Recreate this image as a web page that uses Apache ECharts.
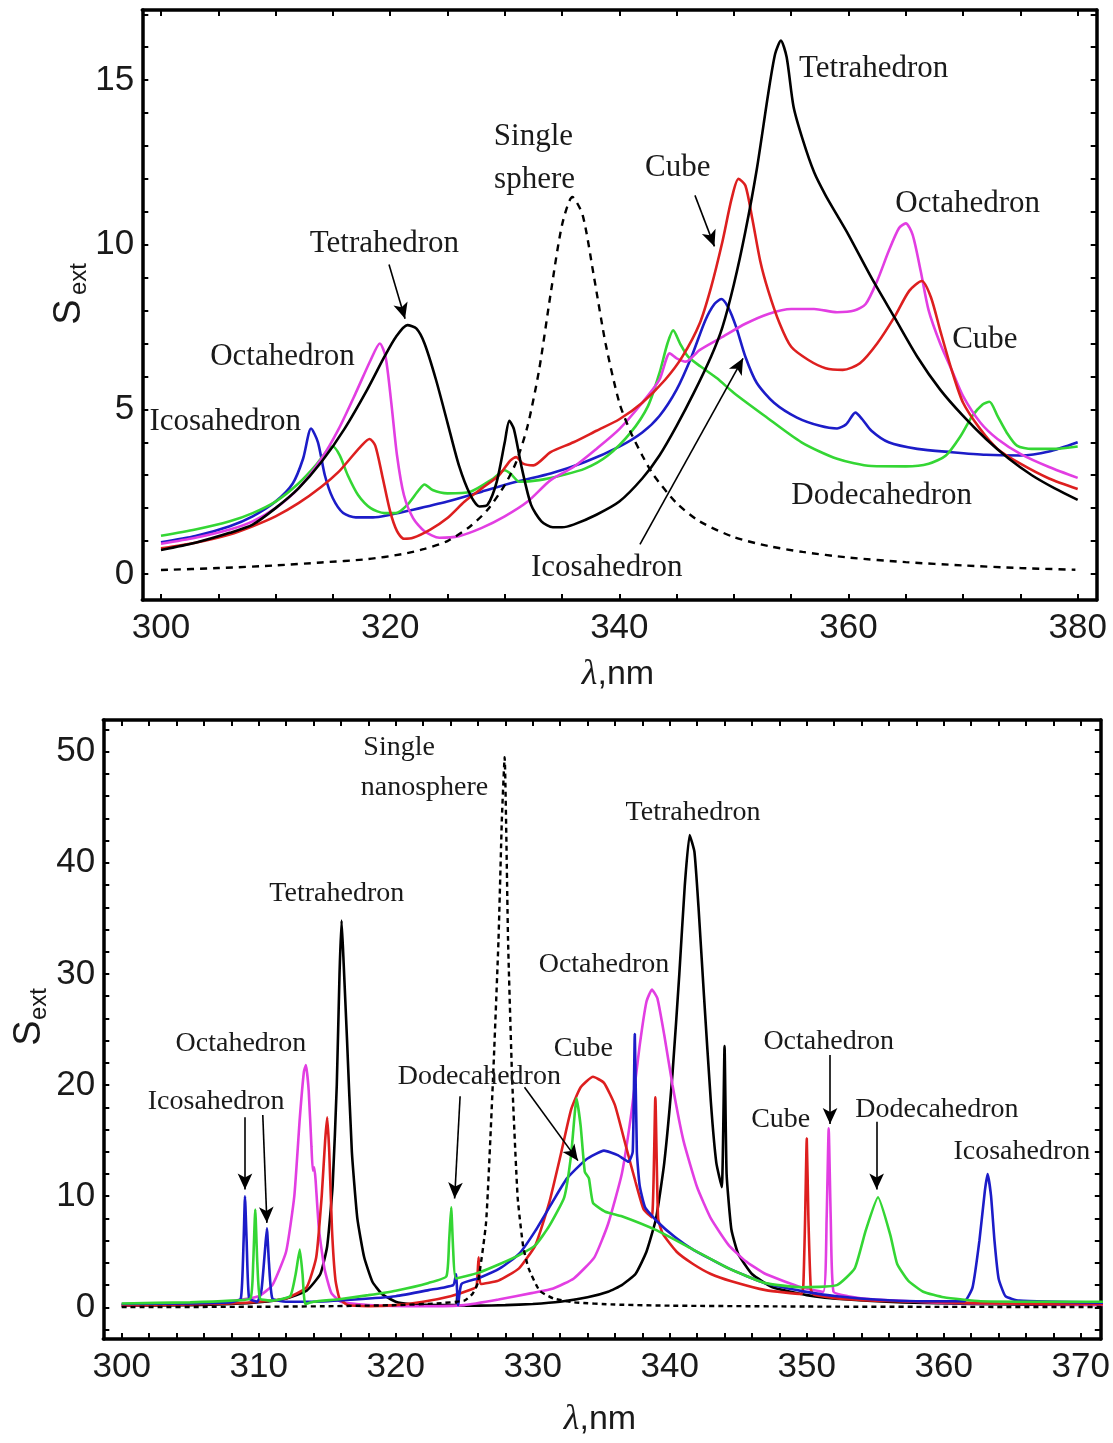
<!DOCTYPE html>
<html><head><meta charset="utf-8">
<script src="https://cdn.jsdelivr.net/npm/echarts@6/dist/echarts.min.js"></script>
<style>html,body{margin:0;padding:0;background:#fff}#c{width:1113px;height:1443px}</style>
</head><body><div id="c"></div>
<script>
// ---------- Top panel data ([λ nm, S_ext]) ----------
const topTetra = [[300,0.73],[303,0.95],[306,1.25],[308,1.5],[310,2.0],[312,2.6],[314,3.4],[316,4.4],[318,5.6],[319.5,6.6],[320.5,7.2],[321.5,7.56],[322.3,7.45],[323,7.0],[324,5.9],[325,4.6],[326,3.3],[327,2.4],[327.8,2.05],[328.5,2.1],[329.3,2.8],[330,4.0],[330.4,4.65],[330.8,4.4],[331.5,3.2],[332.3,2.1],[333.2,1.6],[334.2,1.42],[335,1.42],[336,1.5],[338,1.8],[340,2.2],[342,2.9],[343.5,3.6],[345,4.5],[346.5,5.5],[348,6.6],[349,7.5],[350,8.8],[351,10.4],[352,12.3],[353,14.6],[353.6,15.8],[354.1,16.2],[354.6,15.7],[355.2,14.2],[356,13.2],[357,12.2],[358,11.5],[359,10.9],[360,10.3],[362,9.0],[364,7.8],[366,6.6],[368,5.6],[370,4.8],[372,4.1],[374,3.5],[376,3.0],[378,2.6],[380,2.25]];
const topCube = [[300,0.78],[303,0.95],[306,1.2],[308,1.45],[310,1.75],[312,2.15],[314,2.65],[315.5,3.1],[316.5,3.5],[317.5,3.9],[318.2,4.1],[318.7,3.9],[319.3,3.0],[320,1.9],[320.6,1.3],[321.2,1.07],[322,1.1],[323.5,1.35],[325,1.7],[326.5,2.2],[328,2.6],[329.5,3.0],[330.5,3.45],[331,3.55],[331.6,3.35],[332.5,3.3],[334,3.7],[336,4.0],[338,4.35],[340,4.7],[342,5.2],[344,5.9],[345.5,6.6],[347,7.6],[348,8.7],[349,10.1],[349.8,11.4],[350.4,12.0],[351,11.8],[351.6,10.8],[352.3,9.5],[353,8.6],[354,7.6],[355,6.9],[356.5,6.5],[358,6.25],[359.5,6.2],[361,6.4],[362.5,7.0],[364,7.8],[365.3,8.6],[366.4,8.9],[367.2,8.4],[368,7.4],[369,6.2],[370,5.2],[371.5,4.4],[373,3.8],[375,3.35],[377.5,2.9],[380,2.58]];
const topOcta = [[300,0.92],[303,1.1],[306,1.35],[308,1.6],[310,2.0],[312,2.6],[314,3.5],[315.5,4.4],[317,5.5],[318.3,6.5],[319.1,7.0],[319.6,6.6],[320.1,5.2],[320.6,3.6],[321.2,2.4],[322,1.7],[323,1.3],[324.3,1.1],[326,1.15],[328,1.4],[330,1.75],[332,2.2],[334,2.85],[336,3.25],[338,3.8],[340,4.4],[342,5.2],[343.5,5.9],[344.4,6.7],[345,6.55],[345.8,6.45],[347,6.8],[349,7.2],[351,7.6],[353,7.9],[355,8.05],[357,8.05],[359,7.95],[360.5,8.0],[361.5,8.2],[362.5,8.9],[363.5,9.8],[364.4,10.5],[365,10.65],[365.6,10.3],[366.3,9.2],[367,8.0],[368,7.0],[369,6.2],[370,5.4],[371.5,4.6],[373,4.1],[375,3.65],[377.5,3.25],[380,2.92]];
const topIcosa = [[300,0.96],[303,1.15],[306,1.45],[308,1.75],[310,2.2],[311.5,2.75],[312.4,3.5],[313.1,4.42],[313.7,4.0],[314.3,3.0],[315,2.3],[315.9,1.85],[317,1.72],[318.5,1.72],[320,1.8],[322,1.95],[325,2.2],[328,2.5],[331,2.8],[334,3.05],[337,3.4],[340,3.87],[342,4.3],[343.5,4.8],[345,5.6],[346.3,6.6],[347.5,7.7],[348.3,8.2],[348.9,8.35],[349.5,8.1],[350.2,7.5],[351,6.6],[352,5.8],[353.5,5.2],[355.5,4.75],[357.5,4.5],[359,4.42],[359.8,4.55],[360.6,4.9],[361.2,4.7],[362,4.35],[363.5,4.0],[366,3.8],[369,3.7],[372,3.62],[375,3.6],[377.5,3.72],[380,4.0]];
const topDodeca = [[300,1.16],[303,1.35],[306,1.6],[308,1.85],[310,2.2],[312,2.75],[313.5,3.3],[314.5,3.75],[315,3.87],[315.6,3.6],[316.3,3.0],[317.2,2.4],[318.3,2.0],[319.5,1.85],[320.5,1.85],[321.5,2.1],[322.5,2.55],[323,2.72],[323.7,2.55],[325,2.45],[327,2.5],[329,2.9],[330,3.15],[330.5,3.05],[331.3,2.8],[333,2.85],[335,3.0],[337,3.2],[339,3.6],[341,4.3],[342.5,5.1],[343.5,6.1],[344.2,7.0],[344.7,7.4],[345.3,7.0],[346,6.6],[347.1,6.3],[348.5,5.95],[350,5.5],[352.7,4.8],[355.9,4.0],[359,3.5],[362,3.28],[365,3.27],[367,3.35],[368.5,3.6],[369.8,4.2],[370.8,4.8],[371.7,5.15],[372.3,5.23],[373,4.8],[373.8,4.3],[374.7,3.9],[376,3.8],[378,3.8],[380,3.87]];
const topSphere = [[300,0.12],[305,0.18],[310,0.26],[314,0.35],[318,0.45],[321,0.6],[323,0.76],[325,1.0],[327,1.45],[328.5,1.95],[330,2.7],[331,3.4],[332,4.5],[333,6.2],[334,8.5],[335,10.6],[335.9,11.45],[336.8,10.9],[337.8,9.0],[338.8,7.0],[340,5.2],[341,4.3],[342,3.6],[343,3.0],[345,2.15],[347,1.6],[350,1.12],[353,0.85],[356,0.67],[360,0.5],[365,0.36],[370,0.26],[375,0.18],[379.8,0.13]];

// ---------- Bottom panel data ----------
const botTetra = [[300,0.15],[305,0.2],[308,0.3],[310,0.45],[312,0.8],[313.5,1.5],[314.5,3.0],[315,5.5],[315.4,11],[315.7,20],[315.9,30],[316.05,34.8],[316.2,31],[316.45,24],[316.8,14],[317.2,8],[317.7,4.5],[318.3,2.3],[319,1.2],[320,0.5],[321,0.3],[323,0.2],[324.4,0.2],[324.5,1.5],[324.6,0.15],[326,0.15],[328,0.2],[330,0.3],[332,0.5],[334,0.9],[335.5,1.4],[336.5,2.0],[337.5,3.0],[338.3,5.0],[339,8.0],[339.6,13],[340.2,21],[340.7,30],[341.1,38],[341.45,42.5],[341.8,41],[342.1,36],[342.5,28],[343,18.5],[343.4,13],[343.8,10.8],[344.0,23.5],[344.15,12],[344.5,7],[345,4.8],[346,3.0],[347.5,1.8],[350,1.1],[353,0.7],[357,0.45],[362,0.3],[372,0.2]];
const botCube = [[300,0.2],[305,0.25],[308,0.35],[310,0.5],[312,0.8],[313.5,1.8],[314.2,4.5],[314.6,10],[314.85,15],[315.0,17.1],[315.15,14],[315.35,7],[315.6,2.5],[315.9,0.8],[316.5,0.2],[318,0.1],[320,0.2],[322,0.5],[324,1.0],[325.5,1.6],[325.9,1.9],[326.05,4.5],[326.2,2.1],[327.5,2.4],[329,3.5],[330.2,5.6],[331.2,9.4],[332,13.5],[332.8,17.8],[333.5,19.8],[334.4,20.75],[335.2,20.2],[336,18.2],[336.8,14.5],[337.5,11.3],[338.1,8.8],[338.7,8.1],[338.95,18.9],[339.15,8.0],[339.5,6.6],[340.5,5.0],[341.7,3.9],[343,3.0],[344.5,2.35],[347,1.55],[349.6,1.2],[349.75,2],[349.88,8],[350.0,15.2],[350.12,8],[350.3,1.6],[350.5,1.15],[352.2,0.8],[355,0.6],[358,0.5],[364,0.35],[372,0.27]];
const botOcta = [[300,0.2],[305,0.3],[308,0.55],[310,1.0],[311,2.0],[312,5.0],[312.6,10],[313.0,17],[313.3,21.2],[313.45,21.8],[313.65,19.5],[313.85,14.5],[313.95,12.3],[314.05,12.6],[314.15,11.5],[314.4,7],[314.8,3.5],[315.3,1.3],[316,0.5],[318,0.2],[322,0.1],[325,0.2],[327.5,0.7],[330,1.3],[331.5,1.7],[333,2.6],[334.5,4.5],[335.5,7.5],[336.5,12],[337.2,17.5],[337.8,23.5],[338.3,27.5],[338.7,28.6],[339.1,27.8],[339.6,24.5],[340.2,20],[341,15],[342,10.8],[343,8],[344.3,5.6],[345.5,4.2],[347,3.0],[349.6,1.8],[351.2,1.4],[351.45,8],[351.6,16.1],[351.75,8],[351.95,1.4],[353,1.0],[355,0.7],[360,0.4],[366,0.3],[372,0.2]];
const botIcosa = [[300,0.3],[305,0.35],[308,0.45],[308.7,0.8],[308.9,6],[309.0,10.0],[309.12,6],[309.3,0.8],[309.9,0.5],[310.2,1.5],[310.45,5],[310.6,7.1],[310.75,4],[311,0.8],[312,0.5],[314,0.5],[317,0.7],[320,1.0],[322.4,1.55],[324.2,2.0],[324.4,3.0],[324.55,0.2],[324.8,2.1],[326,2.6],[327.6,3.5],[329,4.8],[330.2,6.9],[331.5,9.6],[332.5,11.6],[333.9,13.3],[335.2,14.1],[336.2,13.7],[337,13.1],[337.3,14],[337.45,24.6],[337.6,14],[337.8,11],[338.2,9.0],[339.1,7.7],[340.4,6.3],[341.7,5.2],[344.3,3.5],[346.9,2.2],[350.4,1.3],[352.2,1.0],[355,0.7],[358,0.55],[361.5,0.55],[362.1,1.8],[362.6,6],[363.0,10.5],[363.2,12.0],[363.45,10],[363.7,6],[364,2.6],[364.5,1.0],[365.5,0.6],[372,0.4]];
const botDodeca = [[300,0.35],[305,0.45],[308,0.6],[309.4,0.8],[309.6,4],[309.75,8.8],[309.9,4],[310.1,0.8],[311,0.6],[312.3,1.0],[312.7,3],[313.0,5.2],[313.2,3],[313.4,0.3],[314,0.5],[316,0.75],[318,1.1],[320,1.5],[322.4,2.2],[323.7,2.8],[323.9,6],[324.05,9.0],[324.2,5],[324.4,2.6],[326,3.1],[327.6,3.9],[329,4.7],[330.2,5.6],[331.2,7.3],[332.3,9.9],[332.8,13.7],[333.2,18.8],[333.5,16.3],[333.8,12.2],[334.1,11.6],[334.4,9.4],[335.3,8.6],[336.5,8.2],[339.1,6.9],[341.7,5.2],[344.3,3.5],[346.9,2.2],[349.6,1.8],[352.2,2.0],[353.5,3.5],[354.3,6.9],[355.2,9.9],[356.1,6.5],[356.6,3.9],[357.4,2.4],[358.5,1.4],[360,0.9],[362.7,0.55],[372,0.5]];
const botSphere = [[300,0.02],[310,0.05],[315,0.1],[320,0.2],[323,0.35],[325,0.6],[325.6,1.2],[326,2.2],[326.6,7.7],[327.1,20.5],[327.5,33],[327.75,44],[327.95,49.5],[328.2,33],[328.5,20.5],[328.9,9.9],[329.3,5.5],[329.7,3.5],[330.5,1.5],[331.5,0.8],[333,0.45],[336,0.25],[340,0.15],[350,0.07],[360,0.04],[372,0.03]];

// ---------- ticks ----------
const topXLabels = [300,320,340,360,380];
const topXTicks = [300,305,310,315,320,325,330,335,340,345,350,355,360,365,370,375,380];
const topYLabels = [0,5,10,15];
const topYTicks = [0,1,2,3,4,5,6,7,8,9,10,11,12,13,14,15,16,17];
const botXLabels = [300,310,320,330,340,350,360,370];
const botXTicks = [300,302,304,306,308,310,312,314,316,318,320,322,324,326,328,330,332,334,336,338,340,342,344,346,348,350,352,354,356,358,360,362,364,366,368,370];
const botYLabels = [0,10,20,30,40,50];
const botYTicks = [-2,0,2,4,6,8,10,12,14,16,18,20,22,24,26,28,30,32,34,36,38,40,42,44,46,48,50,52];

// ---------- annotations (data coordinates) ----------
const topNotes = [['Single',332.5,13.27],['sphere',332.6,11.96],['Tetrahedron',319.5,10.02],['Octahedron',310.6,6.59],['Icosahedron',305.6,4.62],['Cube',345.1,12.33],['Tetrahedron',362.2,15.34],['Octahedron',370.4,11.24],['Cube',371.9,7.11],['Dodecahedron',362.9,2.37],['Icosahedron',338.9,0.18]];
const botNotes = [['Single',320.25,50.4],['nanosphere',322.1,46.8],['Tetrahedron',315.7,37.2],['Octahedron',308.7,23.7],['Icosahedron',306.9,18.5],['Dodecahedron',326.1,20.8],['Octahedron',335.2,30.8],['Cube',333.7,23.3],['Tetrahedron',341.7,44.55],['Octahedron',351.6,23.9],['Cube',348.1,16.9],['Dodecahedron',359.5,17.8],['Icosahedron',365.7,14.05]];
const topArrows = [[319.9,9.4,321.3,7.75],[346.6,11.5,348.3,9.95],[341.8,0.9,350.8,6.55]];
const botArrows = [[309.0,17.1,309.0,10.6],[310.3,17.3,310.6,7.6],[324.7,19.0,324.3,9.8],[329.4,19.8,333.3,13.2],[351.7,22.7,351.7,16.5],[355.1,16.7,355.1,10.6]];

const C = {black:'#000000', red:'#dd1f1f', mag:'#e23ee2', blue:'#1c1cc8', green:'#34d634'};

const chart = echarts.init(document.getElementById('c'), null, {renderer:'canvas'});
const frameW = 3.5;
function xAx(gi, min, max, pos, ticks, labels, showLab){
  return {type:'value', gridIndex:gi, min:min, max:max, position:pos,
    axisLine:{show:true, onZero:false, lineStyle:{color:'#000', width:frameW}},
    axisTick:{show:true, inside:true, length:6, customValues:ticks, lineStyle:{color:'#000', width:2}},
    axisLabel:{show:showLab, customValues:labels, fontFamily:'Liberation Sans', fontSize:35, color:'#1a1a1a', margin:11},
    splitLine:{show:false}};
}
function yAx(gi, min, max, pos, ticks, labels, showLab){
  return {type:'value', gridIndex:gi, min:min, max:max, position:pos,
    axisLine:{show:true, onZero:false, lineStyle:{color:'#000', width:frameW}},
    axisTick:{show:true, inside:true, length:6, customValues:ticks, lineStyle:{color:'#000', width:2}},
    axisLabel:{show:showLab, customValues:labels, fontFamily:'Liberation Sans', fontSize:35, color:'#1a1a1a', margin:8},
    splitLine:{show:false}};
}
function ln(data, color, xi, yi, dashed){
  return {type:'line', data:data, xAxisIndex:xi, yAxisIndex:yi, showSymbol:false, symbol:'none',
    smooth:0.25, animation:false, silent:true, z: dashed?3:2,
    lineStyle:{color:color, width: dashed?2.4:2.6, type: dashed?[7,6]:'solid'}};
}
function arrows(list, xi, yi){
  return {type:'line', data:[], xAxisIndex:xi, yAxisIndex:yi, animation:false, silent:true,
    markLine:{silent:true, animation:false, symbol:['none','arrow'], symbolSize:[11,16],
      label:{show:false}, lineStyle:{color:'#000', width:1.6, type:'solid'},
      data: list.map(a=>[{coord:[a[0],a[1]]},{coord:[a[2],a[3]]}])}};
}

const option = {
  backgroundColor:'#fff',
  animation:false,
  grid:[
    {left:142.3, top:10, width:954.4, height:590},
    {left:103.3, top:720, width:998.4, height:619}
  ],
  xAxis:[
    xAx(0, 298.37, 381.66, 'bottom', topXTicks, topXLabels, true),
    xAx(0, 298.37, 381.66, 'top', topXTicks, topXLabels, false),
    xAx(1, 298.66, 371.46, 'bottom', botXTicks, botXLabels, true),
    xAx(1, 298.66, 371.46, 'top', botXTicks, botXLabels, false)
  ],
  yAxis:[
    yAx(0, -0.79, 17.13, 'left', topYTicks, topYLabels, true),
    yAx(0, -0.79, 17.13, 'right', topYTicks, topYLabels, false),
    yAx(1, -2.85, 52.85, 'left', botYTicks, botYLabels, true),
    yAx(1, -2.85, 52.85, 'right', botYTicks, botYLabels, false)
  ],
  series:[
    ln(topSphere, C.black, 0, 0, true),
    ln(topIcosa, C.blue, 0, 0),
    ln(topDodeca, C.green, 0, 0),
    ln(topOcta, C.mag, 0, 0),
    ln(topCube, C.red, 0, 0),
    ln(topTetra, C.black, 0, 0),
    arrows(topArrows, 0, 0),
    Object.assign(ln(botSphere, C.black, 2, 2, true), {lineStyle:{color:'#000', width:2.4, type:[5,4]}, smooth:0.15}),
    Object.assign(ln(botTetra, C.black, 2, 2), {smooth:0.15}),
    Object.assign(ln(botOcta, C.mag, 2, 2), {smooth:0.15}),
    Object.assign(ln(botCube, C.red, 2, 2), {smooth:0.15}),
    Object.assign(ln(botIcosa, C.blue, 2, 2), {smooth:0.15}),
    Object.assign(ln(botDodeca, C.green, 2, 2), {smooth:0.15}),
    arrows(botArrows, 2, 2)
  ]
};
chart.setOption(option);

const g = [];
function addNotes(list, xi, yi, size){
  list.forEach(n=>{
    const p = chart.convertToPixel({xAxisIndex:xi, yAxisIndex:yi}, [n[1], n[2]]);
    g.push({type:'text', x:p[0], y:p[1], z:10, silent:true,
      style:{text:n[0], fontFamily:'Liberation Serif', fontSize:size, fill:'#1a1a1a', align:'center', verticalAlign:'middle'}});
  });
}
addNotes(topNotes, 0, 0, 31);
addNotes(botNotes, 2, 2, 28);
// axis titles
function sTitle(xS, yS, xE, yE){
  g.push({type:'text', x:xS, y:yS, rotation:Math.PI/2, silent:true,
    style:{text:'S', fontFamily:'Liberation Sans', fontSize:38, fill:'#1a1a1a', align:'center', verticalAlign:'middle'}});
  g.push({type:'text', x:xE, y:yE, rotation:Math.PI/2, silent:true,
    style:{text:'ext', fontFamily:'Liberation Sans', fontSize:24, fill:'#1a1a1a', align:'center', verticalAlign:'middle'}});
}
sTitle(70, 312, 79, 279);
sTitle(30, 1033, 39, 1004);
function lTitle(x, y){
  g.push({type:'text', x:x, y:y, silent:true,
    style:{text:'{i|λ},nm', fontFamily:'Liberation Sans', fontSize:34, fill:'#1a1a1a', align:'center', verticalAlign:'middle',
      rich:{i:{fontFamily:'Liberation Serif', fontStyle:'italic', fontSize:36, fill:'#1a1a1a'}}}});
}
lTitle(618, 675);
lTitle(600, 1420);
chart.setOption({graphic:g});
</script>
</body></html>
